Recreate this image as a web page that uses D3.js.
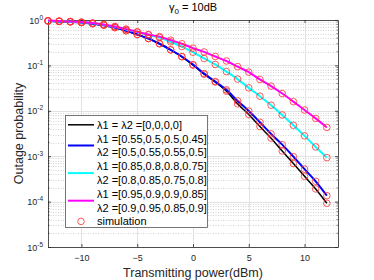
<!DOCTYPE html>
<html><head><meta charset="utf-8">
<script src="https://cdn.jsdelivr.net/npm/d3@7"></script>
<style>
html,body{margin:0;padding:0;background:#fff;}
svg{display:block;font-family:"Liberation Sans",Arial,Helvetica,sans-serif;}
</style></head>
<body>
<svg id="chart" width="374" height="280"></svg>
<script>
// ---- data ----
const powerDbm = [-13,-12,-11,-10,-9,-8,-7,-6,-5,-4,-3,-2,-1,0,1,2,3,4,5,6,7,8,9,10,11,12];
const outageBlack = [0.95,0.93,0.91,0.88,0.83,0.77,0.68,0.58,0.48,0.39,0.30,0.22,0.155,0.102,0.064,0.043,0.027,0.0142,0.0083,0.0045,0.0025,0.0013,0.00069,0.00036,0.00019,0.000092];
const outageBlue  = [0.95,0.93,0.91,0.88,0.83,0.77,0.68,0.58,0.48,0.39,0.30,0.22,0.157,0.104,0.066,0.044,0.029,0.0165,0.0099,0.0056,0.0031,0.0018,0.00098,0.00052,0.00028,0.000135];
const outageCyan  = [0.96,0.94,0.92,0.89,0.85,0.79,0.71,0.62,0.54,0.47,0.41,0.33,0.26,0.195,0.142,0.105,0.073,0.050,0.032,0.021,0.0133,0.0081,0.0048,0.0028,0.0016,0.00093];
const outageMagenta = [0.97,0.95,0.93,0.90,0.86,0.80,0.72,0.63,0.55,0.48,0.43,0.36,0.30,0.24,0.198,0.157,0.125,0.094,0.071,0.049,0.035,0.024,0.0159,0.0104,0.0068,0.0043];
const seriesNames = ["black","blue","cyan","magenta"];
const seriesColors = ["#000000","#0000ff","#00ffff","#ff00ff"];
const legendLines = [
  ["λ1 = λ2 =[0,0,0,0]"],
  ["λ1 =[0.55,0.5,0.5,0.45]","λ2 =[0.5,0.55,0.55,0.5]"],
  ["λ1 =[0.85,0.8,0.8,0.75]","λ2 =[0.8,0.85,0.75,0.8]"],
  ["λ1 =[0.95,0.9,0.9,0.85]","λ2 =[0.9,0.95,0.85,0.9]"]
];
const simulationLabel = "simulation";
const xTicks = [-10,-5,0,5,10];
const yExponents = [0,-1,-2,-3,-4,-5];
const xLabel = "Transmitting power(dBm)";
const yLabel = "Outage probability";

const seriesValues = [outageBlack, outageBlue, outageCyan, outageMagenta];

// ---- layout ----
const L = 48, R = 338, T = 20, B = 247;
const svg = d3.select("#chart");
const x = d3.scaleLinear().domain([-13,13]).range([L,R]);
const y = d3.scaleLog().domain([1e-5,1]).range([B,T]);

// grid
const g = svg.append("g");
const minorVals = [];
for (let e=-5;e<0;e++) for (let m=2;m<=9;m++) minorVals.push(m*Math.pow(10,e));
g.selectAll(".ym").data(minorVals).join("line")
  .attr("x1",L).attr("x2",R).attr("y1",d=>Math.round(y(d))+0.5).attr("y2",d=>Math.round(y(d))+0.5)
  .attr("stroke","#d4d4d4").attr("stroke-width",1).attr("stroke-dasharray","1,1.5");
g.selectAll(".yM").data(yExponents.map(e=>Math.pow(10,e))).join("line")
  .attr("x1",L).attr("x2",R).attr("y1",d=>Math.round(y(d))+0.5).attr("y2",d=>Math.round(y(d))+0.5)
  .attr("stroke","#e2e2e2").attr("stroke-width",1);
g.selectAll(".xM").data(xTicks).join("line")
  .attr("y1",T).attr("y2",B).attr("x1",d=>Math.round(x(d))+0.5).attr("x2",d=>Math.round(x(d))+0.5)
  .attr("stroke","#e2e2e2").attr("stroke-width",1);

// axes (box with inward ticks)
const axCol = "#262626";
const axisBottom = d3.axisBottom(x).tickValues(xTicks).tickSizeInner(-3).tickSizeOuter(0).tickFormat(d3.format("d"));
const axisTop = d3.axisTop(x).tickValues(xTicks).tickSizeInner(-3).tickSizeOuter(0).tickFormat("");
const axB = svg.append("g").attr("transform",`translate(0,${B})`).call(axisBottom);
const axT = svg.append("g").attr("transform",`translate(0,${T})`).call(axisTop);
axB.selectAll("text").attr("y",8).attr("dy","0.71em").attr("font-size","9px").attr("fill",axCol);
const yTickVals = yExponents.map(e=>Math.pow(10,e));
const axisLeft = d3.axisLeft(y).tickValues(yTickVals).tickSizeInner(-3).tickSizeOuter(0).tickFormat("");
const axisRight = d3.axisRight(y).tickValues(yTickVals).tickSizeInner(-3).tickSizeOuter(0).tickFormat("");
const axL = svg.append("g").attr("transform",`translate(${L},0)`).call(axisLeft);
const axR = svg.append("g").attr("transform",`translate(${R},0)`).call(axisRight);
[axB,axT,axL,axR].forEach(a=>{a.selectAll("path,line").attr("stroke",axCol).attr("stroke-width",0.8);a.attr("font-family",null);});
// minor ticks on left/right
svg.selectAll(".mt").data(minorVals).join("line")
  .attr("x1",L).attr("x2",L+1.5).attr("y1",d=>y(d)).attr("y2",d=>y(d)).attr("stroke",axCol).attr("stroke-width",0.6);
svg.selectAll(".mtr").data(minorVals).join("line")
  .attr("x1",R).attr("x2",R-1.5).attr("y1",d=>y(d)).attr("y2",d=>y(d)).attr("stroke",axCol).attr("stroke-width",0.6);
// y tick labels 10^e
const yl = svg.selectAll(".ytl").data(yExponents).join("text")
  .attr("x",L-5).attr("y",d=>y(Math.pow(10,d))+3.5).attr("text-anchor","end")
  .attr("font-size","9px").attr("fill",axCol);
yl.append("tspan").text("10");
yl.append("tspan").attr("dy","-4").attr("font-size","6.5px").text(d=>d);

// lines
const line = d3.line().x((d,i)=>x(powerDbm[i])).y(d=>y(d)).curve(d3.curveMonotoneX);
const lineWidths = [1.5,2,2,2];
seriesValues.forEach((vals,k)=>{
  svg.append("path").datum(vals).attr("d",line).attr("fill","none")
    .attr("stroke",seriesColors[k]).attr("stroke-width",lineWidths[k]);
});
// simulation circles
seriesValues.forEach((vals,k)=>{
  svg.append("g").selectAll("circle").data(vals).join("circle")
    .attr("cx",(d,i)=>x(powerDbm[i])).attr("cy",d=>y(d)).attr("r",3.3)
    .attr("fill","none").attr("stroke","#ff3030").attr("stroke-width",0.8);
});

// legend
const lg = svg.append("g");
lg.append("rect").attr("x",65.5).attr("y",115.5).attr("width",142).attr("height",112)
  .attr("fill","#fff").attr("stroke","#555").attr("stroke-width",0.8);
const rowH = 13.8, row0 = 124.8;
let row = 0;
legendLines.forEach((lines,k)=>{
  const yc = row0 + rowH*(row + (lines.length-1)/2);
  lg.append("line").attr("x1",68).attr("x2",94).attr("y1",yc).attr("y2",yc)
    .attr("stroke",seriesColors[k]).attr("stroke-width",lineWidths[k]);
  lines.forEach((t,j)=>{
    lg.append("text").attr("x",97).attr("y",row0+rowH*(row+j)+4)
      .attr("font-size","11px").attr("fill","#000").text(t);
  });
  row += lines.length;
});
const ys = row0 + rowH*row;
lg.append("circle").attr("cx",81).attr("cy",ys).attr("r",3.3).attr("fill","none").attr("stroke","#ff3030").attr("stroke-width",0.8);
lg.append("text").attr("x",97).attr("y",ys+4).attr("font-size","11px").attr("fill","#000").text(simulationLabel);

// title
const tt = svg.append("text").attr("x",(L+R)/2).attr("y",11).attr("text-anchor","middle")
  .attr("font-size","11px").attr("fill","#000");
tt.append("tspan").text("γ");
tt.append("tspan").attr("dy",3).attr("font-size","8px").text("0");
tt.append("tspan").attr("dy",-3).text(" = 10dB");

// axis labels
svg.append("text").attr("x",(L+R)/2).attr("y",277).attr("text-anchor","middle")
  .attr("font-size","12.5px").attr("fill",axCol).text(xLabel);
svg.append("text").attr("transform",`translate(23,${(T+B)/2}) rotate(-90)`).attr("text-anchor","middle")
  .attr("font-size","12.5px").attr("fill",axCol).text(yLabel);
</script>
</body></html>
